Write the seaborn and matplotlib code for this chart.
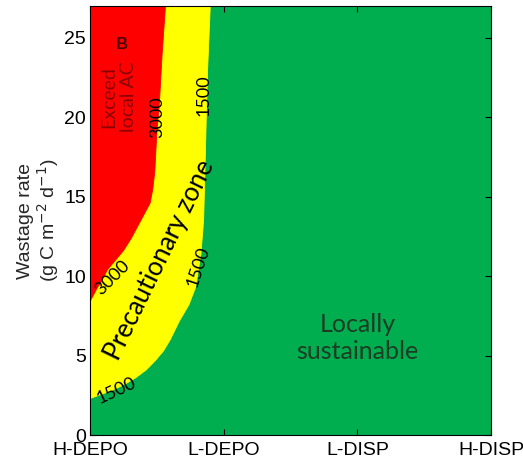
import matplotlib
matplotlib.use("Agg")
import matplotlib.pyplot as plt
import seaborn as sns
import numpy as np
import pandas as pd

# ---- data ----
scenarios = ["H-DEPO", "L-DEPO", "L-DISP", "H-DISP"]
y_ticks = [0, 5, 10, 15, 20, 25]

# 1500 contour (boundary precautionary / locally sustainable)
c1500_x = [0.00, 0.08, 0.16, 0.25, 0.34, 0.42, 0.49, 0.55, 0.60, 0.67, 0.74, 0.79, 0.83, 0.85, 0.86, 0.87, 0.88, 0.90]
c1500_y = [2.3, 2.55, 2.8, 3.15, 3.6, 4.1, 4.7, 5.3, 6.0, 7.2, 8.2, 9.3, 11.4, 13.5, 16.6, 20.0, 23.0, 27.0]

# 3000 contour (boundary exceed local AC / precautionary)
c3000_x = [0.00, 0.05, 0.10, 0.13, 0.25, 0.31, 0.38, 0.45, 0.47, 0.485, 0.50, 0.52, 0.54, 0.565]
c3000_y = [8.4, 9.2, 9.9, 10.4, 11.6, 12.4, 13.5, 14.6, 15.5, 16.6, 19.0, 21.0, 24.0, 27.0]

YMAX = 27

sns.set_theme(style="ticks", rc={
    "xtick.direction": "in", "ytick.direction": "in",
    "xtick.top": True, "ytick.right": True,
    "axes.linewidth": 0.8,
})
plt.rcParams["font.family"] = ["Liberation Sans", "DejaVu Sans"]

fig = plt.figure(figsize=(5.23, 4.61), dpi=100)
ax = fig.add_axes([0.172, 0.056, 0.767, 0.931])

GREEN = "#00AE4F"
YELLOW = "#FFFF00"
RED = "#FF0000"

df1500 = pd.DataFrame({"x": c1500_x, "y": c1500_y})
df3000 = pd.DataFrame({"x": c3000_x, "y": c3000_y})

# background: locally sustainable
ax.fill([0, 3, 3, 0], [0, 0, YMAX, YMAX], color=GREEN, lw=0, zorder=0)
# precautionary zone (left of 1500 contour)
ax.fill(list(df1500.x) + [0], list(df1500.y) + [YMAX], color=YELLOW, lw=0, zorder=1)
# exceed local AC (left of 3000 contour)
ax.fill(list(df3000.x) + [0], list(df3000.y) + [YMAX], color=RED, lw=0, zorder=2)

# contour lines (same colour as the region boundary, invisible like the reference)
sns.lineplot(data=df1500, x="x", y="y", sort=False, ax=ax, color=YELLOW, lw=0.6, zorder=3)
sns.lineplot(data=df3000, x="x", y="y", sort=False, ax=ax, color=RED, lw=0.6, zorder=3)

ax.set_xlim(0, 3)
ax.set_ylim(0, YMAX)
ax.set_xticks(range(len(scenarios)))
ax.set_xticklabels(scenarios)
ax.set_yticks(y_ticks)
ax.tick_params(labelsize=14, length=4, width=0.8, colors="black")
ax.tick_params(axis="x", pad=5)
ax.tick_params(axis="y", pad=3)
ax.set_xlabel("")
ax.set_ylabel("Wastage rate\n(g C m$^{-2}$ d$^{-1}$)", fontsize=14, labelpad=2, linespacing=1.05)
for s in ax.spines.values():
    s.set_color("black")
    s.set_zorder(10)

lab = dict(family=["Lato", "DejaVu Sans"], zorder=5)
# contour labels
ax.text(0.50, 20.0, "3000", rotation=90, ha="center", va="center", fontsize=13, color="black", **lab)
ax.text(0.85, 21.4, "1500", rotation=90, ha="center", va="center", fontsize=13, color="black", **lab)
ax.text(0.17, 9.9, "3000", rotation=45, ha="center", va="center", fontsize=13, color="black", **lab)
ax.text(0.81, 10.6, "1500", rotation=72, ha="center", va="center", fontsize=13, color="black", **lab)
ax.text(0.20, 2.8, "1500", rotation=25, ha="center", va="center", fontsize=13, color="black", **lab)

# region labels
ax.text(0.24, 24.6, "B", ha="center", va="center", fontsize=12, fontweight="bold",
        color="#4a0000", family=["Liberation Sans"], zorder=5)
ax.text(0.215, 21.3, "Exceed\nlocal AC", rotation=90, ha="center", va="center",
        fontsize=14, color="#8a0000", linespacing=1.2, **lab)
ax.text(0.52, 11.0, "Precautionary zone", rotation=64, ha="center", va="center",
        fontsize=18.5, color="black", **lab)
ax.text(2.0, 6.1, "Locally\nsustainable", ha="center", va="center",
        fontsize=18, color="#1c3d24", linespacing=1.2, **lab)

fig.savefig("out.png", dpi=100)
